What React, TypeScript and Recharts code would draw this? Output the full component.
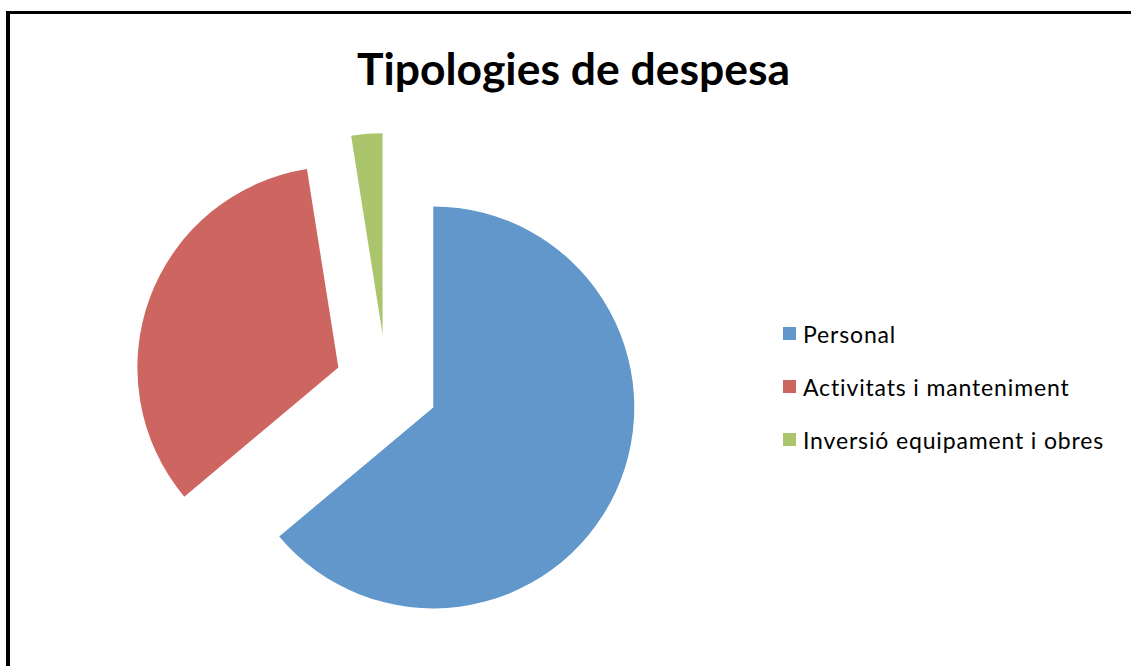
import { PieChart, Pie, Cell } from "recharts";

const title = "Tipologies de despesa";
const categories = ["Personal", "Activitats i manteniment", "Inversió equipament i obres"];
const shares = [63.9, 33.6, 2.5];
const colors = ["#6197CA", "#CD6660", "#ABC56C"];

const data = categories.map((name, i) => ({ name, value: shares[i] }));

// pie centre, radius and how far each slice is pulled out
const CX = 386.6;
const CY = 385.6;
const R = 201;
const EXPLODE = 51.5;

const total = shares.reduce((a, b) => a + b, 0);
// mid angle of each slice, clockwise from 12 o'clock (radians)
const midAngles = shares.map((v, i) => {
  const before = shares.slice(0, i).reduce((a, b) => a + b, 0);
  return ((before + v / 2) / total) * 2 * Math.PI;
});

function ChartLegend() {
  return (
    <svg width={340} height={150} style={{ position: "absolute", left: 783, top: 317 }}>
      {categories.map((name, i) => (
        <g key={name} transform={`translate(0, ${10 + i * 53})`}>
          <rect x={0} y={0} width={13} height={13} fill={colors[i]} />
          <text
            x={20}
            y={16}
            fontFamily="Lato, 'Open Sans', sans-serif"
            fontSize={23}
            letterSpacing={0.85}
            fill="#000"
          >
            {name}
          </text>
        </g>
      ))}
    </svg>
  );
}

export default function App() {
  return (
    <div style={{ position: "absolute", left: 0, top: 0, width: 1131, height: 666, overflow: "hidden", background: "#fff" }}>
      <div
        style={{
          position: "absolute",
          left: 6,
          top: 11,
          width: 1300,
          height: 900,
          borderTop: "3.5px solid #000",
          borderLeft: "4.5px solid #000",
          boxSizing: "border-box",
        }}
      />
      <svg width={1131} height={120} style={{ position: "absolute", left: 0, top: 0 }}>
        <text
          x={573.5}
          y={85}
          textAnchor="middle"
          fontFamily="Lato, 'Open Sans', sans-serif"
          fontWeight="bold"
          fontSize={44}
          textLength={433}
          lengthAdjust="spacingAndGlyphs"
          fill="#000"
        >
          {title}
        </text>
      </svg>
      <div style={{ position: "absolute", left: 0, top: 0 }}>
        <PieChart width={1131} height={666} margin={{ top: 0, right: 0, bottom: 0, left: 0 }}>
          {midAngles.map((mid, k) => (
            <Pie
              key={categories[k]}
              data={data}
              dataKey="value"
              nameKey="name"
              cx={CX + EXPLODE * Math.sin(mid)}
              cy={CY - EXPLODE * Math.cos(mid)}
              outerRadius={R}
              startAngle={90}
              endAngle={-270}
              stroke="none"
              legendType="none"
              isAnimationActive={false}
            >
              {data.map((d, i) => (
                <Cell key={d.name} fill={i === k ? colors[i] : "none"} />
              ))}
            </Pie>
          ))}
        </PieChart>
      </div>
      <ChartLegend />
    </div>
  );
}
